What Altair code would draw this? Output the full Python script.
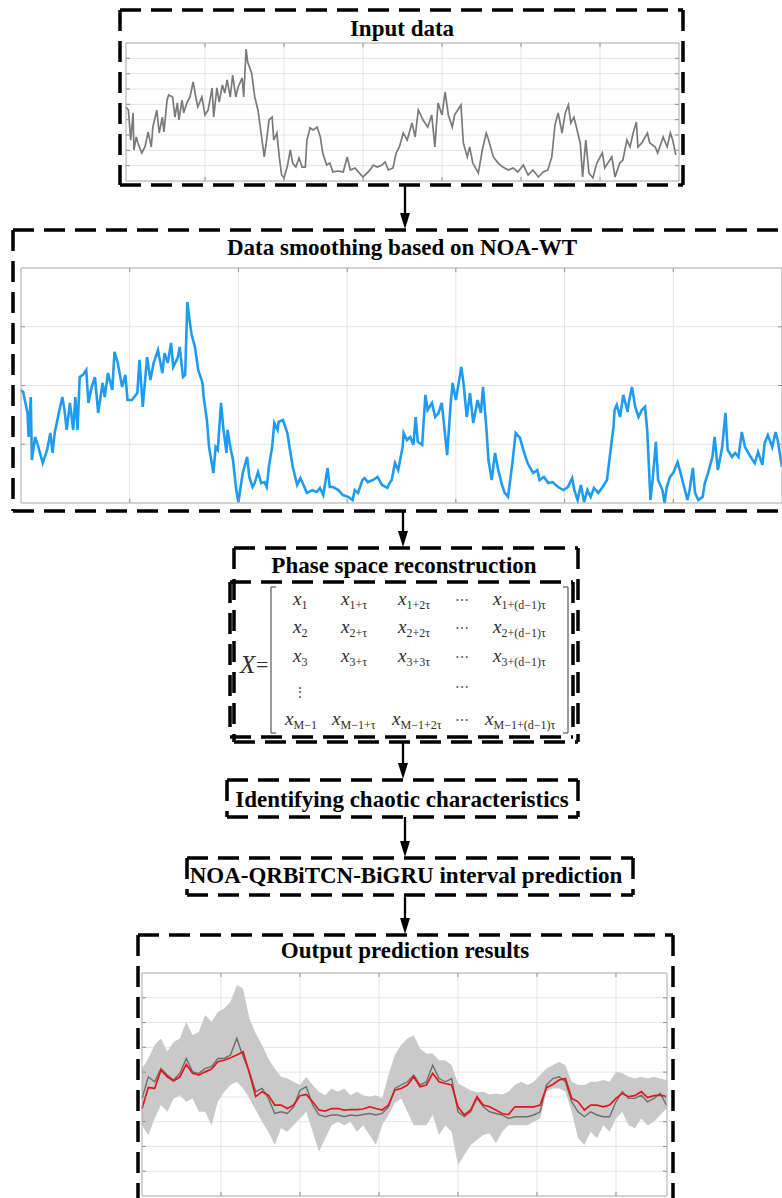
import altair as alt
import pandas as pd

W, H = 782, 1198
SERIF = "Liberation Serif"

# ---------------- input series (top panel) ----------------
input_t = [0, 3, 6, 9, 10, 13, 15, 20, 24, 28, 32, 34, 39, 42, 46, 48, 52, 54, 59, 62,
           65, 67, 71, 73, 77, 81, 85, 89, 91, 96, 100, 104, 109, 111, 115, 118, 122, 125, 128, 132,
           135, 139, 142, 147, 149, 152, 154, 159, 163, 167, 171, 175, 178, 181, 185, 187, 191, 194, 197, 200,
           204, 208, 211, 215, 219, 223, 227, 229, 233, 237, 242, 246, 249, 254, 258, 262, 268, 275, 280, 284,
           290, 294, 300, 305, 309, 313, 318, 324, 328, 332, 338, 342, 346, 351, 356, 362, 366, 370, 376, 382,
           387, 391, 395, 400, 404, 408, 413, 416, 420, 424, 427, 432, 435, 439, 446, 451, 456, 459, 465, 471,
           477, 484, 490, 496, 503, 509, 515, 522, 528, 534, 539, 543, 547, 552, 556, 560, 563, 567, 571, 575,
           578, 582, 586, 591, 596, 603, 606, 610, 615, 619, 625, 629, 634, 638, 642, 646, 648, 653, 660, 663,
           670, 673, 680, 685, 689, 692, 696]
input_v = [48.3, 46.3, 26.7, 44.4, 20.2, 28.7, 24.8, 18.3, 22.2, 32.0, 22.2, 35.2, 46.3, 31.3, 41.7, 32.0, 52.8, 56.1, 54.8, 41.7,
           50.9, 39.8, 52.8, 44.4, 50.9, 54.8, 64.6, 52.8, 48.3, 54.8, 43.1, 46.3, 60.7, 41.7, 60.7, 51.5, 62.6, 57.4, 65.9, 54.8,
           69.1, 54.8, 61.3, 67.2, 54.8, 86.1, 77.6, 70.5, 54.8, 46.3, 31.3, 15.7, 26.7, 39.8, 41.7, 26.7, 31.3, 15.7, 3.9, 2.0,
           9.1, 20.2, 11.7, 9.1, 15.0, 9.1, 9.1, 26.7, 34.6, 33.3, 35.2, 28.7, 18.3, 10.4, 11.7, 5.9, 6.5, 5.9, 15.7, 7.2,
           8.5, 5.9, 2.6, 5.2, 7.2, 10.4, 9.1, 10.4, 12.4, 7.2, 8.5, 18.3, 22.2, 31.3, 26.7, 37.8, 28.7, 46.3, 39.8, 35.2,
           43.1, 22.2, 50.9, 43.1, 58.1, 43.1, 35.2, 43.1, 46.3, 49.6, 24.8, 15.7, 22.2, 11.7, 5.2, 20.2, 31.3, 26.7, 15.7, 11.7,
           9.1, 7.2, 8.5, 5.9, 10.4, 3.9, 7.2, 2.6, 5.9, 7.2, 15.7, 36.5, 44.4, 31.3, 44.4, 49.6, 37.8, 41.7, 33.3, 24.8,
           2.6, 26.7, 5.2, 2.0, 11.7, 18.3, 8.5, 11.7, 15.7, 2.6, 11.7, 13.7, 26.7, 22.2, 31.3, 38.5, 22.2, 24.8, 31.3, 24.8,
           22.2, 18.3, 28.7, 22.2, 31.3, 26.7, 17.0]

# ---------------- NOA-WT smoothed series (middle panel) ----------------
smooth_t = [0, 2, 6, 7, 9, 10, 13, 16, 20, 24, 27, 29, 31, 34, 38, 40, 42, 45, 48, 50,
            52, 54, 57, 60, 62, 65, 68, 71, 75, 77, 80, 84, 86, 89, 93, 96, 98, 102, 107, 109,
            112, 116, 119, 122, 126, 130, 132, 135, 138, 140, 144, 146, 149, 151, 153, 155, 157, 160, 163, 167,
            168, 171, 173, 177, 179, 181, 184, 186, 189, 190, 193, 195, 198, 200, 202, 204, 208, 210, 213, 215,
            218, 221, 224, 226, 228, 231, 233, 236, 237, 241, 245, 247, 250, 254, 257, 259, 263, 268, 272, 275,
            278, 282, 284, 287, 292, 296, 301, 305, 307, 310, 314, 316, 319, 324, 328, 332, 337, 339, 341, 344,
            347, 351, 352, 355, 358, 361, 363, 365, 369, 372, 374, 378, 381, 384, 387, 389, 392, 395, 397, 400,
            402, 405, 407, 410, 413, 416, 420, 423, 425, 428, 430, 433, 436, 439, 443, 445, 448, 452, 455, 459,
            462, 466, 468, 471, 475, 477, 481, 485, 489, 494, 499, 503, 507, 509, 512, 515, 518, 521, 524, 527,
            531, 535, 539, 542, 545, 546, 548, 551, 554, 558, 559, 562, 565, 568, 571, 574, 576, 579, 581, 584,
            586, 590, 592, 594, 597, 600, 604, 606, 609, 613, 615, 618, 620, 623, 627, 629, 632, 636, 638, 641,
            645, 648, 650, 654, 657, 660, 663, 666, 669, 673, 675, 678, 682, 684, 687, 691, 694, 696, 700]
smooth_v = [48.1, 47.2, 38.3, 28.1, 45.1, 18.3, 28.1, 23.8, 17.0, 22.6, 29.8, 21.3, 29.8, 36.6, 45.1, 39.6, 31.1, 42.6, 31.1, 45.1,
            31.1, 53.6, 54.5, 56.6, 42.6, 49.4, 53.6, 38.3, 51.1, 45.1, 55.3, 48.1, 64.3, 59.6, 49.4, 54.5, 43.8, 43.8, 46.8, 60.9,
            40.9, 62.1, 52.3, 59.6, 65.1, 55.3, 63.8, 59.6, 68.1, 57.9, 61.7, 66.4, 53.6, 54.5, 85.5, 77.9, 71.5, 66.4, 56.6, 51.1,
            45.1, 35.3, 23.8, 12.8, 23.8, 22.6, 42.6, 32.3, 21.3, 31.1, 22.6, 18.3, 5.5, 0.4, 6.8, 12.8, 19.6, 11.1, 6.8, 8.5,
            13.2, 8.5, 8.9, 6.8, 15.3, 23.8, 34.0, 31.1, 34.5, 35.3, 29.8, 23.8, 15.3, 7.7, 10.6, 8.5, 4.3, 5.5, 4.7, 6.4,
            3.4, 14.9, 6.8, 6.8, 5.5, 3.4, 2.6, 1.3, 5.5, 4.3, 9.8, 10.6, 8.9, 9.8, 11.1, 7.7, 6.4, 8.5, 9.8, 17.0,
            14.0, 23.8, 29.8, 26.8, 28.1, 24.7, 36.6, 26.0, 24.7, 46.0, 39.6, 42.6, 36.6, 38.3, 42.6, 34.0, 20.4, 40.9, 51.1, 43.8,
            49.4, 57.9, 51.1, 36.6, 46.8, 34.0, 43.8, 38.3, 49.4, 32.3, 18.3, 9.8, 21.3, 14.0, 6.8, 4.3, 2.6, 17.0, 29.8, 27.7,
            22.6, 17.0, 15.3, 12.8, 14.0, 9.8, 11.1, 8.5, 8.9, 6.8, 5.5, 6.8, 10.6, 5.5, 1.3, 7.7, 0.4, 5.5, 2.6, 6.4,
            4.3, 6.8, 9.8, 21.3, 32.3, 39.6, 41.7, 36.6, 46.0, 38.7, 42.6, 49.4, 40.9, 36.6, 39.6, 40.9, 31.1, 1.3, 9.8, 26.0,
            9.8, 5.5, 0.0, 6.8, 11.1, 12.8, 17.4, 14.0, 8.5, 1.3, 5.5, 14.9, 4.3, 1.3, 2.6, 8.5, 12.8, 19.6, 28.1, 14.0,
            23.8, 38.3, 22.6, 19.6, 21.3, 19.6, 30.2, 23.8, 21.3, 18.3, 17.0, 21.7, 16.2, 25.5, 28.9, 23.8, 30.2, 26.8, 15.3]

# ---------------- interval prediction (bottom panel) ----------------
out_t = list(range(0, 672, 8))
out_upper = [51.5, 55.5, 60.9, 63.6, 58.2, 62.2, 63.6, 70.3, 64.9, 66.3,
             73.0, 70.3, 74.3, 75.7, 78.4, 85.1, 83.7, 71.6, 65.6, 60.9,
             55.5, 51.5, 48.1, 47.4, 46.1, 44.8, 48.1, 44.8, 42.1, 40.7,
             43.4, 42.1, 43.4, 40.7, 42.1, 40.7, 40.1, 40.7, 39.4, 48.8,
             56.9, 60.9, 63.6, 64.9, 59.5, 57.5, 57.5, 54.8, 54.8, 52.8,
             45.4, 44.1, 42.7, 41.8, 42.1, 41.0, 41.4, 41.0, 42.1, 44.8,
             46.1, 44.8, 46.1, 48.8, 51.5, 52.8, 54.2, 52.8, 46.1, 44.8,
             44.8, 46.1, 46.1, 46.8, 46.1, 50.1, 49.5, 48.1, 47.4, 48.1,
             47.4, 48.1, 47.4, 46.8]
out_lower = [28.6, 24.6, 31.3, 36.7, 34.0, 39.4, 40.7, 38.0, 39.4, 34.0,
             34.0, 28.6, 38.0, 42.1, 44.8, 46.1, 43.4, 39.4, 34.7, 30.0,
             25.9, 20.6, 27.3, 25.9, 28.6, 31.3, 34.0, 25.9, 17.9, 23.3,
             28.6, 30.0, 28.6, 30.0, 25.9, 28.6, 24.6, 20.6, 28.6, 32.7,
             37.4, 39.4, 34.0, 28.6, 28.6, 28.6, 32.7, 24.6, 28.6, 25.9,
             12.5, 16.5, 20.6, 22.6, 24.6, 25.3, 21.2, 25.9, 28.6, 28.6,
             28.6, 28.6, 30.0, 31.3, 42.1, 43.4, 43.4, 42.1, 34.0, 23.3,
             20.6, 25.9, 23.3, 28.6, 25.9, 31.3, 34.0, 28.6, 27.3, 31.3,
             28.6, 30.0, 32.7, 35.3]
out_actual = [39.4, 48.1, 46.1, 51.5, 48.8, 46.8, 49.5, 55.5, 50.1, 49.5,
              51.5, 52.2, 55.5, 55.5, 56.9, 63.6, 56.2, 50.1, 42.1, 43.4,
              39.4, 33.3, 34.0, 33.3, 36.0, 42.7, 44.1, 36.7, 32.7, 32.0,
              32.7, 32.7, 32.0, 32.7, 32.4, 32.9, 33.3, 32.7, 33.3, 36.0,
              43.4, 44.8, 46.1, 48.8, 44.8, 46.1, 52.8, 47.4, 46.1, 47.4,
              34.0, 32.0, 34.0, 39.4, 36.0, 34.0, 33.3, 32.7, 31.3, 32.0,
              32.0, 32.0, 32.7, 34.0, 44.8, 47.4, 48.1, 46.1, 38.0, 34.0,
              32.0, 34.0, 32.7, 32.0, 32.0, 38.0, 42.1, 39.4, 39.4, 40.7,
              38.0, 39.4, 41.4, 36.7]
out_pred = [35.3, 43.8, 43.4, 50.8, 48.1, 46.4, 48.1, 53.1, 49.5, 48.8,
            50.1, 51.2, 54.2, 54.8, 55.8, 56.9, 58.2, 49.5, 40.1, 42.1,
            40.7, 36.7, 36.7, 35.3, 36.7, 40.5, 41.0, 38.0, 34.7, 34.3,
            35.3, 35.3, 34.7, 34.9, 34.9, 35.1, 36.0, 35.3, 34.7, 36.7,
            42.7, 43.4, 44.8, 48.1, 44.1, 44.8, 49.5, 46.1, 45.4, 44.8,
            36.0, 32.7, 34.7, 40.1, 36.7, 36.0, 34.7, 33.3, 32.9, 36.0,
            36.0, 36.0, 36.0, 36.7, 43.7, 45.0, 46.8, 47.4, 39.4, 38.0,
            34.7, 36.7, 36.7, 36.0, 36.7, 39.4, 41.4, 40.1, 40.5, 42.1,
            39.7, 40.5, 40.7, 40.1]

# ---------------- flowchart text ----------------
step_titles = ["Input data", "Data smoothing based on NOA-WT", "Phase space reconstruction",
               "Identifying chaotic characteristics", "NOA-QRBiTCN-BiGRU interval prediction",
               "Output prediction results"]
matrix_subs = [["1", "1+τ", "1+2τ", "1+(d−1)τ"],
               ["2", "2+τ", "2+2τ", "2+(d−1)τ"],
               ["3", "3+τ", "3+3τ", "3+(d−1)τ"],
               ["M−1", "M−1+τ", "M−1+2τ", "M−1+(d−1)τ"]]

# ---------------- page layout (pixels) ----------------
title_pos = [(402, 36), (402, 255), (404, 573), (402, 807), (406, 883), (405, 958)]
boxes = [(120, 10, 683, 185), (13, 230, 792, 511), (234, 548, 578, 742), (230, 582, 573, 737),
         (227, 780, 578, 817), (187, 858, 633, 895), (138, 935, 673, 1215)]
arrows = [(405, 185, 229), (403, 511, 547), (403, 742, 779), (405, 817, 857), (405, 895, 934)]
matrix_rows_y = [605, 633, 662, 725]
matrix_cols_x = [[293, 341, 398, 493], [293, 341, 398, 493], [293, 341, 398, 493], [285, 332, 392, 485]]

cx = alt.Scale(domain=[0, W], range=[0, W], nice=False, zero=False)
cy = alt.Scale(domain=[0, H], range=[0, H], nice=False, zero=False)


def cxy(xf="x", yf="y"):
    return dict(x=alt.X(f"{xf}:Q", scale=cx, axis=None), y=alt.Y(f"{yf}:Q", scale=cy, axis=None))


def panel(xdom, xrng, ydom, yrng, xgrid, ygrid, marks):
    xs = alt.Scale(domain=xdom, range=xrng, nice=False, zero=False)
    ys = alt.Scale(domain=ydom, range=yrng, nice=False, zero=False)
    ux = (xdom[1] - xdom[0]) / abs(xrng[1] - xrng[0])
    uy = (ydom[1] - ydom[0]) / abs(yrng[1] - yrng[0])
    tl = 4
    grid, edge = [], []
    for g in xgrid:
        grid.append(dict(x=g, y=ydom[0], x2=g, y2=ydom[1], c="#e4e4e4"))
        edge.append(dict(x=g, y=ydom[0], x2=g, y2=ydom[0] + tl * uy, c="#8f8f8f"))
        edge.append(dict(x=g, y=ydom[1], x2=g, y2=ydom[1] - tl * uy, c="#8f8f8f"))
    for g in ygrid:
        grid.append(dict(x=xdom[0], y=g, x2=xdom[1], y2=g, c="#e4e4e4"))
        edge.append(dict(x=xdom[0], y=g, x2=xdom[0] + tl * ux, y2=g, c="#8f8f8f"))
        edge.append(dict(x=xdom[1], y=g, x2=xdom[1] - tl * ux, y2=g, c="#8f8f8f"))
    for (a, b, c, d) in [(xdom[0], ydom[0], xdom[1], ydom[0]), (xdom[0], ydom[1], xdom[1], ydom[1]),
                         (xdom[0], ydom[0], xdom[0], ydom[1]), (xdom[1], ydom[0], xdom[1], ydom[1])]:
        edge.append(dict(x=a, y=b, x2=c, y2=d, c="#a8a8a8"))

    def rules(rows):
        return alt.Chart(pd.DataFrame(rows)).mark_rule(strokeWidth=1).encode(
            x=alt.X("x:Q", scale=xs, axis=None), x2="x2:Q",
            y=alt.Y("y:Q", scale=ys, axis=None), y2="y2:Q",
            color=alt.Color("c:N", scale=None))

    return alt.layer(rules(grid), *[m(xs, ys) for m in marks], rules(edge))


# top panel: raw input
df_in = pd.DataFrame({"t": input_t, "v": input_v})
top = panel([0, 700], [126, 679], [0, 90], [181, 43], [100, 200, 300, 400, 500, 600],
            [10, 20, 30, 40, 50, 60, 70, 80],
            [lambda xs, ys: alt.Chart(df_in).mark_line(color="#7a7a7a", strokeWidth=1.7).encode(
                x=alt.X("t:Q", scale=xs, axis=None), y=alt.Y("v:Q", scale=ys, axis=None))])

# middle panel: smoothed series
df_sm = pd.DataFrame({"t": smooth_t, "v": smooth_v})
mid = panel([0, 700], [21, 782], [0, 100], [503, 268], [100, 200, 300, 400, 500, 600],
            [25, 50, 75],
            [lambda xs, ys: alt.Chart(df_sm).mark_line(color="#1f9bf0", strokeWidth=2.6).encode(
                x=alt.X("t:Q", scale=xs, axis=None), y=alt.Y("v:Q", scale=ys, axis=None))])

# bottom panel: prediction interval, actual and predicted values
df_out = pd.DataFrame({"t": out_t, "upper": out_upper, "lower": out_lower,
                       "actual": out_actual, "pred": out_pred})
bot = panel([0, 664.6], [142, 667], [0, 90], [1196, 973], [100, 200, 300, 400, 500, 600],
            [10, 20, 30, 40, 50, 60, 70, 80],
            [lambda xs, ys: alt.Chart(df_out).mark_area(color="#c9c9c9").encode(
                x=alt.X("t:Q", scale=xs, axis=None), y=alt.Y("upper:Q", scale=ys, axis=None), y2="lower:Q"),
             lambda xs, ys: alt.Chart(df_out).mark_line(color="#6e6e6e", strokeWidth=1.4).encode(
                x=alt.X("t:Q", scale=xs, axis=None), y=alt.Y("actual:Q", scale=ys, axis=None)),
             lambda xs, ys: alt.Chart(df_out).mark_line(color="#e8141c", strokeWidth=1.7).encode(
                x=alt.X("t:Q", scale=xs, axis=None), y=alt.Y("pred:Q", scale=ys, axis=None))])

# ---------------- flowchart canvas ----------------
seg = []
for (x1, y1, x2, y2) in boxes:
    seg += [dict(x=x1, y=y1, x2=x2, y2=y1), dict(x=x2, y=y1, x2=x2, y2=y2),
            dict(x=x1, y=y2, x2=x2, y2=y2), dict(x=x1, y=y1, x2=x1, y2=y2)]
dashed = alt.Chart(pd.DataFrame(seg)).mark_rule(strokeDash=[21, 10], strokeWidth=3.5, color="black").encode(
    x2="x2:Q", y2="y2:Q", **cxy())

shafts = alt.Chart(pd.DataFrame([dict(x=a, y=b, y2=c - 8) for a, b, c in arrows])).mark_rule(
    strokeWidth=2.3, color="black").encode(y2="y2:Q", **cxy())
heads = alt.Chart(pd.DataFrame([dict(x=a, y=c - 8) for a, b, c in arrows])).mark_point(
    shape="M-0.62,-1L0.62,-1L0,1Z", filled=True, size=256, color="black", opacity=1).encode(**cxy())

titles = alt.Chart(pd.DataFrame([dict(label=s, x=p[0], y=p[1]) for s, p in zip(step_titles, title_pos)])).mark_text(
    font=SERIF, fontSize=23, fontWeight="bold", align="center", baseline="alphabetic", color="black").encode(
    text="label:N", **cxy())

base_rows, sub_rows = [], []
for r, subs in enumerate(matrix_subs):
    for c, s in enumerate(subs):
        bx, by = matrix_cols_x[r][c], matrix_rows_y[r]
        base_rows.append(dict(x=bx, y=by, label="x"))
        sub_rows.append(dict(x=bx + 8.5, y=by + 4, label=s))
mat_col = "#2e2e2e"
bases = alt.Chart(pd.DataFrame(base_rows)).mark_text(
    font=SERIF, fontSize=19, fontStyle="italic", align="left", baseline="alphabetic", color=mat_col).encode(
    text="label:N", **cxy())
subs_t = alt.Chart(pd.DataFrame(sub_rows)).mark_text(
    font=SERIF, fontSize=12, align="left", baseline="alphabetic", color=mat_col).encode(
    text="label:N", **cxy())
dots = alt.Chart(pd.DataFrame([dict(x=462, y=y, label="⋯") for y in [605, 633, 662, 692, 725]] +
                              [dict(x=300, y=697, label="⋮")])).mark_text(
    font=SERIF, fontSize=14, align="center", baseline="alphabetic", color="#555555").encode(
    text="label:N", **cxy())
xlab = alt.Chart(pd.DataFrame([dict(x=240, y=673, label="X")])).mark_text(
    font=SERIF, fontSize=25, fontStyle="italic", align="left", baseline="alphabetic", color=mat_col).encode(
    text="label:N", **cxy())
eq = alt.Chart(pd.DataFrame([dict(x=256, y=672, label="=")])).mark_text(
    font=SERIF, fontSize=22, align="left", baseline="alphabetic", color=mat_col).encode(
    text="label:N", **cxy())
brk = [dict(x=271, y=587, x2=271, y2=733), dict(x=271, y=587, x2=276, y2=587), dict(x=271, y=733, x2=276, y2=733),
       dict(x=568, y=587, x2=568, y2=733), dict(x=563, y=587, x2=568, y2=587), dict(x=563, y=733, x2=568, y2=733)]
brackets = alt.Chart(pd.DataFrame(brk)).mark_rule(strokeWidth=1.3, color="#666666").encode(
    x2="x2:Q", y2="y2:Q", **cxy())

canvas = alt.layer(dashed, shafts, heads, titles, brackets, bases, subs_t, dots, xlab, eq)

chart = alt.layer(top, mid, bot, canvas).resolve_scale(x="independent", y="independent").properties(
    width=W, height=H, padding=0, autosize=alt.AutoSizeParams(type="none"), background="white"
).configure_view(stroke=None)

chart.save("out.html", embed_options={"renderer": "svg", "actions": False})
